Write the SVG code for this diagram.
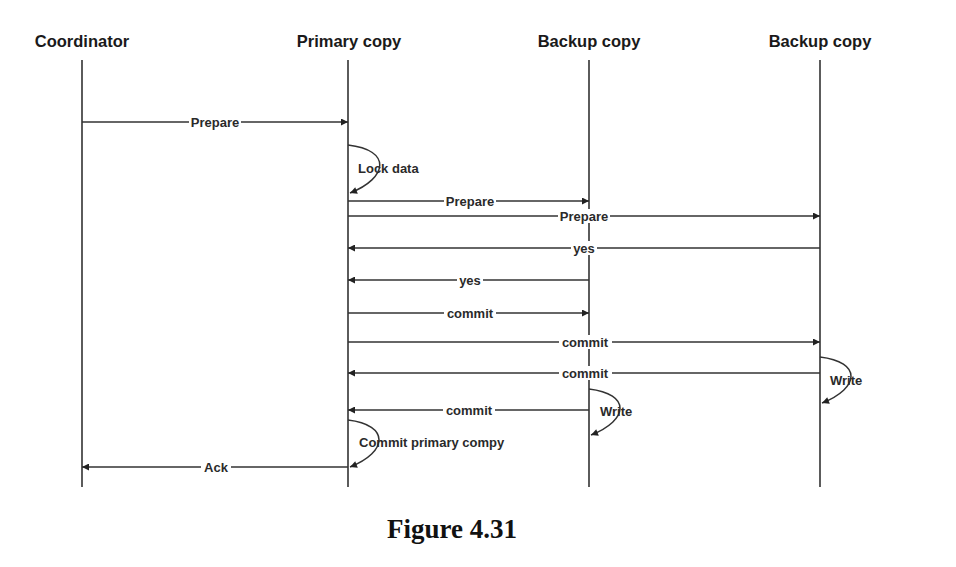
<svg xmlns="http://www.w3.org/2000/svg" width="956" height="567" viewBox="0 0 956 567">
<style>
.hdr{font-family:"Liberation Sans",Arial,sans-serif;font-weight:bold;font-size:16.5px;fill:#1a1a1a;text-anchor:middle}
.life{stroke:#333;stroke-width:1.6;fill:none}
.msg{stroke:#333;stroke-width:1.5;fill:none;marker-end:url(#ah)}
.loop{stroke:#333;stroke-width:1.5;fill:none;marker-end:url(#ah)}
.lbl{font-family:"Liberation Sans",Arial,sans-serif;font-weight:bold;font-size:13px;fill:#2a2a2a;text-anchor:middle}
.lbl2{font-family:"Liberation Sans",Arial,sans-serif;font-weight:bold;font-size:13px;fill:#2a2a2a}
.bg{fill:#fff}
.cap{font-family:"Liberation Serif","Times New Roman",serif;font-weight:bold;font-size:27px;fill:#111;text-anchor:middle}
</style>
<defs>
<marker id="ah" viewBox="0 0 10 10" refX="10" refY="5" markerWidth="8" markerHeight="7" markerUnits="userSpaceOnUse" orient="auto">
<path d="M0,0 L10,5 L0,10 z" fill="#222"/>
</marker>
</defs>
<g id="coordinator"><text class="hdr" x="82" y="47">Coordinator</text><line class="life" x1="82" y1="60" x2="82" y2="487"/></g>
<g id="primary"><text class="hdr" x="349" y="47">Primary copy</text><line class="life" x1="348" y1="60" x2="348" y2="487"/></g>
<g id="backup1"><text class="hdr" x="589" y="47">Backup copy</text><line class="life" x1="589" y1="60" x2="589" y2="487"/></g>
<g id="backup2"><text class="hdr" x="820" y="47">Backup copy</text><line class="life" x1="820" y1="60" x2="820" y2="487"/></g>
<g id="connectors">
<line class="msg" x1="82" y1="122" x2="348" y2="122"/>
<path class="loop" d="M348,145 C392,150 388,178 350,193"/>
<line class="msg" x1="348" y1="201" x2="589" y2="201"/>
<line class="msg" x1="348" y1="216" x2="820" y2="216"/>
<line class="msg" x1="820" y1="248" x2="348" y2="248"/>
<line class="msg" x1="589" y1="280" x2="348" y2="280"/>
<line class="msg" x1="348" y1="313" x2="589" y2="313"/>
<line class="msg" x1="348" y1="342" x2="820" y2="342"/>
<line class="msg" x1="820" y1="373" x2="348" y2="373"/>
<path class="loop" d="M820,357 C862,362 860,388 822,403"/>
<line class="msg" x1="589" y1="410" x2="348" y2="410"/>
<path class="loop" d="M589,389 C631,394 629,420 591,435"/>
<path class="loop" d="M348,420 C390,425 388,452 350,467"/>
<line class="msg" x1="348" y1="467" x2="82" y2="467"/>
<rect class="bg" x="189" y="115" width="52" height="14"/><text class="lbl" x="215" y="126.5">Prepare</text>
<text class="lbl2" x="358" y="173">Lock data</text>
<rect class="bg" x="444" y="194" width="52" height="14"/><text class="lbl" x="470" y="205.5">Prepare</text>
<rect class="bg" x="558" y="209" width="52" height="14"/><text class="lbl" x="584" y="220.5">Prepare</text>
<rect class="bg" x="571" y="241" width="26" height="14"/><text class="lbl" x="584" y="252.5">yes</text>
<rect class="bg" x="457" y="273" width="26" height="14"/><text class="lbl" x="470" y="284.5">yes</text>
<rect class="bg" x="444" y="306" width="52" height="14"/><text class="lbl" x="470" y="317.5">commit</text>
<rect class="bg" x="559" y="335" width="53" height="14"/><text class="lbl" x="585" y="346.5">commit</text>
<rect class="bg" x="559" y="366" width="53" height="14"/><text class="lbl" x="585" y="377.5">commit</text>
<text class="lbl2" x="830" y="385">Write</text>
<rect class="bg" x="443" y="403" width="52" height="14"/><text class="lbl" x="469" y="414.5">commit</text>
<text class="lbl2" x="600" y="416">Write</text>
<text class="lbl2" x="359" y="447">Commit primary compy</text>
<rect class="bg" x="201" y="460" width="30" height="14"/><text class="lbl" x="216" y="471.5">Ack</text>
</g>
<text class="cap" x="452" y="538">Figure 4.31</text>
</svg>
